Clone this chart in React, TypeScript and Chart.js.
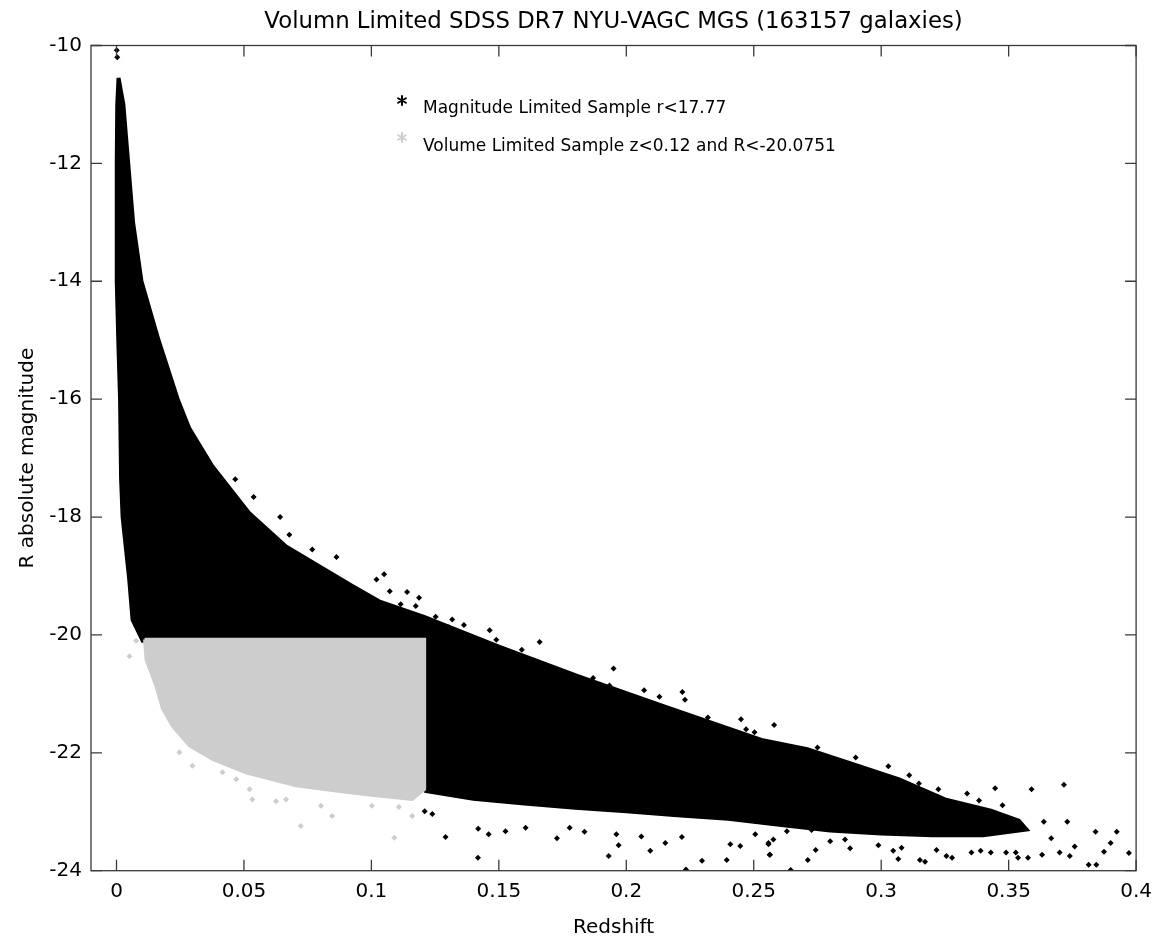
import React, { useEffect, useRef } from 'react';
import { Chart, registerables } from 'chart.js';

Chart.register(...registerables);

const TITLE = 'Volumn Limited SDSS DR7 NYU-VAGC MGS (163157 galaxies)';
const X_LABEL = 'Redshift';
const Y_LABEL = 'R absolute magnitude';
const LEGEND_LABELS = ['Magnitude Limited Sample r<17.77', 'Volume Limited Sample z<0.12 and R<-20.0751'];

const xTickValues = [0, 0.05, 0.1, 0.15, 0.2, 0.25, 0.3, 0.35, 0.4];
const xTickLabels = ['0', '0.05', '0.1', '0.15', '0.2', '0.25', '0.3', '0.35', '0.4'];
const yTickValues = [-24, -22, -20, -18, -16, -14, -12, -10];
const yTickLabels = ['-24', '-22', '-20', '-18', '-16', '-14', '-12', '-10'];

// Dense envelope of the magnitude limited sample (outline traced clockwise)
const magEnvelopeZ = [
  0.0008, 0.0027, 0.0046, 0.0065, 0.0098, 0.0165, 0.024, 0.0286, 0.0376, 0.052, 0.0665, 0.0925,
  0.103, 0.1209, 0.15, 0.181, 0.214, 0.253, 0.271, 0.291, 0.307, 0.325, 0.343, 0.354, 0.357,
  0.34, 0.32, 0.3, 0.28, 0.26, 0.24, 0.22, 0.2, 0.18, 0.16, 0.14, 0.1215, 0.1205, 0.0103,
  0.0063, 0.005, 0.0024, 0.0018, 0.0014, 0.0007, 0.0001, 0.0001, 0.0003, 0.0008,
];
const magEnvelopeM = [
  -10.55, -11.0, -12.0, -13.0, -14.0, -15.0, -16.0, -16.5, -17.14, -17.93, -18.5, -19.17,
  -19.43, -19.7, -20.2, -20.7, -21.2, -21.78, -21.94, -22.22, -22.45, -22.79, -22.98, -23.15, -23.3,
  -23.4, -23.4, -23.37, -23.32, -23.22, -23.12, -23.06, -22.99, -22.93, -22.86, -22.78, -22.65, -20.075, -20.1,
  -19.74, -19.06, -18.0, -17.36, -16.0, -15.0, -14.0, -12.0, -11.0, -10.55,
];

// Sparse galaxies of the magnitude limited sample outside the dense envelope
const magOutlierZ = [
  0.0001, 0.0003, 0.0466, 0.0538, 0.0642, 0.0678, 0.0863, 0.0768, 0.105, 0.1072, 0.102, 0.114,
  0.1187, 0.1115, 0.1174, 0.1252, 0.1317, 0.1363, 0.1304, 0.1464, 0.149, 0.166, 0.159, 0.152,
  0.195, 0.187, 0.1934, 0.207, 0.213, 0.222, 0.223, 0.232, 0.245, 0.247, 0.258, 0.2503,
  0.275, 0.29, 0.3028, 0.311, 0.3148, 0.3224, 0.3337, 0.3447, 0.359, 0.3717, 0.3384, 0.3476,
  0.3638, 0.373, 0.3841, 0.3924, 0.3972, 0.39, 0.3874, 0.3814, 0.3844, 0.3759, 0.374, 0.37,
  0.3667, 0.3631, 0.3576, 0.3537, 0.3528, 0.349, 0.343, 0.339, 0.3354, 0.3278, 0.3256, 0.3217,
  0.3172, 0.3152, 0.3067, 0.3047, 0.308, 0.2989, 0.2878, 0.28, 0.2743, 0.2712, 0.2645, 0.2564,
  0.2558, 0.2577, 0.263, 0.2727, 0.2858, 0.1209, 0.1239, 0.1291, 0.1418, 0.1419, 0.146, 0.1526,
  0.1605, 0.1728, 0.1778, 0.1836, 0.1931, 0.1961, 0.197, 0.2059, 0.2094, 0.2153, 0.2218, 0.2234,
  0.2297, 0.2394, 0.2408, 0.2447, 0.2506, 0.2558, 0.2562,
];
const magOutlierM = [
  -10.08, -10.2, -17.36, -17.66, -18.0, -18.3, -18.68, -18.55, -18.97, -19.26, -19.06, -19.27,
  -19.37, -19.48, -19.51, -19.69, -19.74, -19.83, -19.87, -19.92, -20.08, -20.12, -20.25, -20.27,
  -20.57, -20.73, -20.86, -20.94, -21.05, -20.97, -21.1, -21.4, -21.43, -21.6, -21.53, -21.65,
  -21.91, -22.08, -22.23, -22.38, -22.52, -22.62, -22.69, -22.6, -22.62, -22.54, -22.81, -22.89,
  -23.17, -23.17, -23.34, -23.34, -23.7, -23.53, -23.68, -23.9, -23.9, -23.59, -23.75, -23.69,
  -23.45, -23.73, -23.78, -23.78, -23.69, -23.69, -23.69, -23.66, -23.69, -23.78, -23.75, -23.65,
  -23.85, -23.82, -23.8, -23.66, -23.61, -23.57, -23.62, -23.5, -23.65, -23.82, -23.99, -23.73,
  -23.55, -23.47, -23.33, -23.31, -23.47, -22.99, -23.04, -23.43, -23.78, -23.29, -23.38, -23.33,
  -23.27, -23.45, -23.27, -23.34, -23.75, -23.38, -23.57, -23.42, -23.66, -23.53, -23.43, -23.98,
  -23.83, -23.82, -23.55, -23.58, -23.38, -23.53, -23.73,
];

// Dense envelope of the volume limited sample
const volEnvelopeZ = [
  0.011, 0.1209, 0.1209, 0.116, 0.1, 0.09, 0.0704, 0.0508, 0.0377, 0.0286, 0.022, 0.0181, 0.0155, 0.0116, 0.011,
];
const volEnvelopeM = [
  -20.075, -20.075, -22.62, -22.79, -22.72, -22.67, -22.56, -22.34, -22.11, -21.88, -21.55, -21.26, -20.87, -20.42, -20.075,
];

// Sparse galaxies of the volume limited sample
const volOutlierZ = [
  0.0051, 0.0077, 0.0247, 0.0298, 0.0533, 0.0723, 0.0846, 0.109, 0.0416, 0.0626, 0.0665, 0.0802,
  0.1002, 0.1108, 0.116, 0.0522, 0.047,
];
const volOutlierM = [
  -20.36, -20.1, -21.99, -22.22, -22.79, -23.24, -23.07, -23.44, -22.33, -22.82, -22.79, -22.9,
  -22.9, -22.92, -23.07, -22.62, -22.45,
];

const FONT = '"DejaVu Sans", "Liberation Sans", sans-serif';
const AXIS_COLOR = '#3a3a3a';
const BLACK = '#000000';
const GRAY = '#cdcdcd';

const zip = (xs: number[], ys: number[]) => xs.map((x, i) => ({ x, y: ys[i] }));

const labelFor = (values: number[], labels: string[], v: number) => {
  let best = -1;
  let bestD = Infinity;
  values.forEach((t, i) => {
    const d = Math.abs(t - v);
    if (d < bestD) { bestD = d; best = i; }
  });
  return bestD < 1e-6 ? labels[best] : '';
};

const titlePlugin = {
  id: 'centeredTitle',
  afterDraw(chart: any) {
    const { ctx, chartArea: a } = chart;
    ctx.save();
    ctx.font = `22.8px ${FONT}`;
    ctx.fillStyle = '#000';
    ctx.textAlign = 'center';
    ctx.textBaseline = 'alphabetic';
    ctx.fillText(TITLE, (a.left + a.right) / 2, a.top - 17.5);
    ctx.restore();
  },
};

const boxPlugin = {
  id: 'matlabBox',
  afterDatasetsDraw(chart: any) {
    const { ctx, chartArea: a, scales } = chart;
    const tl = 11;
    ctx.save();
    ctx.strokeStyle = AXIS_COLOR;
    ctx.lineWidth = 1.3;
    ctx.strokeRect(a.left, a.top, a.right - a.left, a.bottom - a.top);
    ctx.beginPath();
    xTickValues.forEach((v) => {
      const px = scales.x.getPixelForValue(v);
      ctx.moveTo(px, a.bottom); ctx.lineTo(px, a.bottom - tl);
      ctx.moveTo(px, a.top); ctx.lineTo(px, a.top + tl);
    });
    yTickValues.forEach((v) => {
      const py = scales.y.getPixelForValue(v);
      ctx.moveTo(a.left, py); ctx.lineTo(a.left + tl, py);
      ctx.moveTo(a.right, py); ctx.lineTo(a.right - tl, py);
    });
    ctx.stroke();
    ctx.restore();
  },
};

const drawAsterisk = (ctx: CanvasRenderingContext2D, x: number, y: number, color: string) => {
  ctx.save();
  ctx.strokeStyle = color;
  ctx.lineWidth = 2;
  ctx.lineCap = 'round';
  ctx.beginPath();
  const r = 4.5;
  [90, 30, 150].forEach((deg) => {
    const t = (deg * Math.PI) / 180;
    ctx.moveTo(x - r * Math.cos(t), y - r * Math.sin(t));
    ctx.lineTo(x + r * Math.cos(t), y + r * Math.sin(t));
  });
  ctx.stroke();
  ctx.restore();
};

const legendPlugin = {
  id: 'innerLegend',
  afterDraw(chart: any) {
    const { ctx, chartArea: a } = chart;
    ctx.save();
    ctx.font = `17px ${FONT}`;
    ctx.fillStyle = '#000';
    ctx.textAlign = 'left';
    ctx.textBaseline = 'alphabetic';
    ctx.fillText(LEGEND_LABELS[0], a.left + 332, a.top + 67.8);
    ctx.fillText(LEGEND_LABELS[1], a.left + 332, a.top + 105.5);
    drawAsterisk(ctx, a.left + 311, a.top + 55, BLACK);
    drawAsterisk(ctx, a.left + 311, a.top + 92, GRAY);
    ctx.restore();
  },
};

export default function App() {
  const canvasRef = useRef<HTMLCanvasElement | null>(null);

  useEffect(() => {
    if (!canvasRef.current) return;
    Chart.defaults.font.family = FONT;
    const chart = new Chart(canvasRef.current, {
      type: 'scatter',
      data: {
        datasets: [
          {
            label: 'volOutliers',
            data: zip(volOutlierZ, volOutlierM),
            backgroundColor: GRAY,
            borderColor: GRAY,
            borderWidth: 0,
            pointStyle: 'rectRot',
            pointRadius: 3,
            order: 0,
          },
          {
            label: 'volEnvelope',
            data: zip(volEnvelopeZ, volEnvelopeM),
            showLine: true,
            fill: 'shape',
            backgroundColor: GRAY,
            borderColor: GRAY,
            borderWidth: 3,
            pointRadius: 0,
            tension: 0,
            order: 1,
          },
          {
            label: 'magOutliers',
            data: zip(magOutlierZ, magOutlierM),
            backgroundColor: BLACK,
            borderColor: BLACK,
            borderWidth: 0,
            pointStyle: 'rectRot',
            pointRadius: 3,
            order: 2,
          },
          {
            label: 'magEnvelope',
            data: zip(magEnvelopeZ, magEnvelopeM),
            showLine: true,
            fill: 'shape',
            backgroundColor: BLACK,
            borderColor: BLACK,
            borderWidth: 4,
            pointRadius: 0,
            tension: 0,
            order: 3,
          },
        ],
      } as any,
      options: {
        animation: false,
        responsive: false,
        devicePixelRatio: 1,
        layout: { padding: { left: 0, right: 22, top: 45.5, bottom: 0 } },
        plugins: {
          legend: { display: false },
          tooltip: { enabled: false },
          title: { display: false },
        },
        scales: {
          x: {
            type: 'linear',
            min: -0.01,
            max: 0.4,
            grid: { display: false, drawTicks: false },
            border: { display: false },
            ticks: {
              stepSize: 0.05,
              includeBounds: false,
              autoSkip: false,
              maxRotation: 0,
              padding: 9,
              color: '#000',
              font: { family: FONT, size: 20 },
              callback: (v: any) => labelFor(xTickValues, xTickLabels, Number(v)),
            },
            title: {
              display: true,
              text: X_LABEL,
              color: '#000',
              font: { family: FONT, size: 20, lineHeight: 1.1 },
              padding: { top: 0, bottom: 0 },
            },
            afterFit: (scale: any) => { scale.height = 68.3; },
          },
          y: {
            type: 'linear',
            min: -24,
            max: -10,
            grid: { display: false, drawTicks: false },
            border: { display: false },
            ticks: {
              stepSize: 2,
              includeBounds: false,
              autoSkip: false,
              padding: 9,
              color: '#000',
              font: { family: FONT, size: 20 },
              callback: (v: any) => labelFor(yTickValues, yTickLabels, Number(v)),
            },
            title: {
              display: true,
              text: Y_LABEL,
              color: '#000',
              font: { family: FONT, size: 20, lineHeight: 1.2 },
              padding: { top: 16, bottom: 0 },
            },
            afterFit: (scale: any) => { scale.width = 91; },
          },
        },
      } as any,
      plugins: [titlePlugin, boxPlugin, legendPlugin],
    });
    return () => chart.destroy();
  }, []);

  return (
    <div style={{ position: 'fixed', left: 0, top: 0, width: 1161, height: 939, background: '#fff' }}>
      <canvas ref={canvasRef} width={1161} height={939} style={{ display: 'block', width: 1161, height: 939 }} />
    </div>
  );
}
